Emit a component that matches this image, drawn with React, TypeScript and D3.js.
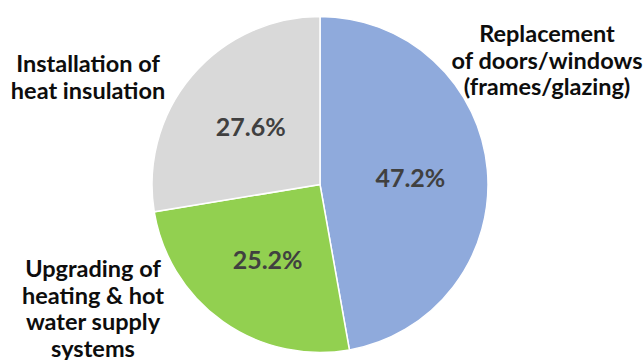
import React from "react";
import * as d3 from "d3";

const categories = [
  "Replacement of doors/windows (frames/glazing)",
  "Upgrading of heating & hot water supply systems",
  "Installation of heat insulation",
];
const values = [47.2, 25.2, 27.6];
const colors = ["#8faadc", "#92d050", "#d9d9d9"];
const labelLines = [
  ["Replacement", "of doors/windows", "(frames/glazing)"],
  ["Upgrading of", "heating & hot", "water supply", "systems"],
  ["Installation of", "heat insulation"],
];

const W = 643;
const H = 360;
const cx = 320;
const cy = 184.5;
const R = 168;
// category label anchors (center x, first baseline y)
const labelAnchors = [
  { x: 547, y: 42 },
  { x: 93, y: 277 },
  { x: 88, y: 72 },
];
const lineStep = 26.5;
const FONT = "Lato, 'Open Sans', 'DejaVu Sans', sans-serif";

export default function App() {
  const pie = d3
    .pie<number>()
    .sort(null)
    .value((d) => d)
    .startAngle(0)
    .endAngle(2 * Math.PI);
  const arcs = pie(values);
  const arc = d3.arc<d3.PieArcDatum<number>>().innerRadius(0).outerRadius(R);
  const lr = R * 0.54;
  const centroidArc = d3
    .arc<d3.PieArcDatum<number>>()
    .innerRadius(lr)
    .outerRadius(lr);

  return (
    <svg
      width={W}
      height={H}
      style={{ position: "absolute", left: 0, top: 0, background: "#fff" }}
    >
      <g transform={`translate(${cx},${cy})`}>
        {arcs.map((a, i) => (
          <path
            key={categories[i]}
            d={arc(a) || ""}
            fill={colors[i]}
            stroke="#fff"
            strokeWidth={1.5}
          />
        ))}
        {arcs.map((a, i) => {
          const [x, y] = centroidArc.centroid(a);
          return (
            <text
              key={"p" + i}
              x={x}
              y={y}
              textAnchor="middle"
              dominantBaseline="central"
              fontFamily={FONT}
              fontWeight={700}
              fontSize={25}
              fill="#404040"
            >
              {values[i].toFixed(1)}%
            </text>
          );
        })}
      </g>
      {labelLines.map((lines, i) => (
        <text
          key={"l" + i}
          textAnchor="middle"
          fontFamily={FONT}
          fontWeight={700}
          fontSize={23.5}
          fill="#0d0d0d"
        >
          {lines.map((ln, j) => (
            <tspan key={j} x={labelAnchors[i].x} y={labelAnchors[i].y + j * lineStep}>
              {ln}
            </tspan>
          ))}
        </text>
      ))}
    </svg>
  );
}
